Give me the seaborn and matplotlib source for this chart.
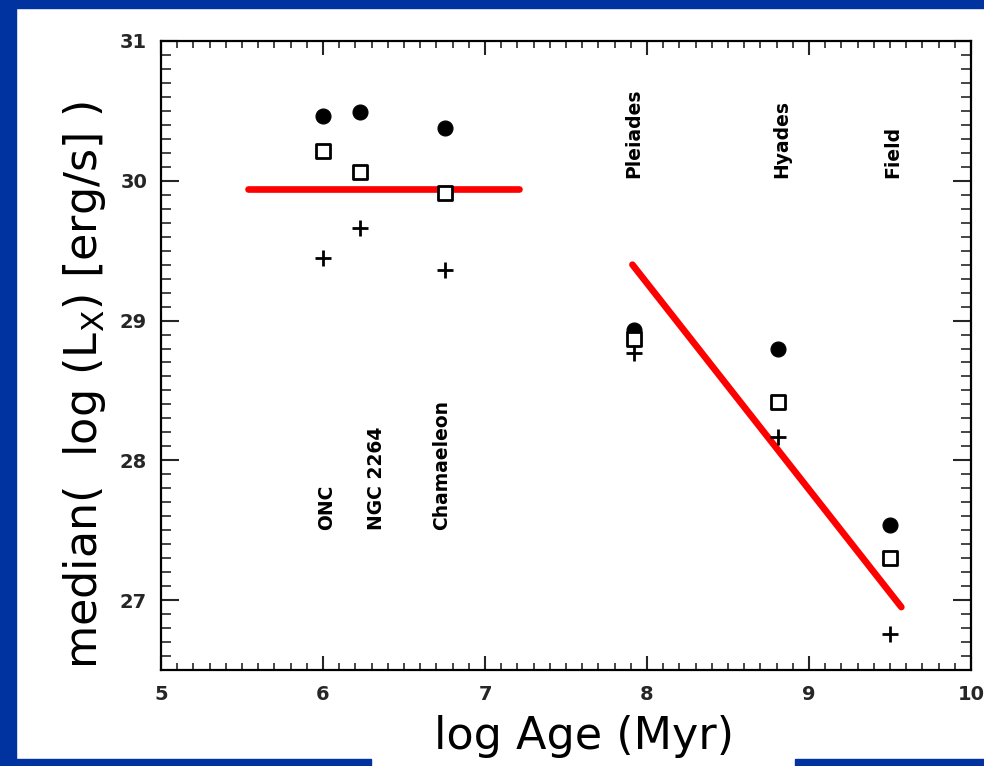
import numpy as np
import pandas as pd
import seaborn as sns
import matplotlib.pyplot as plt
from matplotlib.patches import Rectangle
from matplotlib.ticker import MultipleLocator

# cluster ages (log Myr) and median log Lx for three sample cuts
clusters = ['ONC', 'NGC 2264', 'Chamaeleon', 'Pleiades', 'Hyades', 'Field']
log_age = [6.0, 6.23, 6.75, 7.92, 8.81, 9.5]
lx_circle = [30.46, 30.49, 30.38, 28.93, 28.80, 27.54]
lx_square = [30.21, 30.06, 29.91, 28.87, 28.42, 27.30]
lx_plus = [29.45, 29.66, 29.36, 28.77, 28.17, 26.76]

# cluster name positions (x, bottom of rotated text)
label_x = [6.02, 6.33, 6.73, 7.92, 8.83, 9.52]
label_y = [27.50, 27.50, 27.50, 30.02, 30.02, 30.02]

# red trend lines
flat_x = [5.54, 7.21]
flat_y = [29.94, 29.94]
decline_x = [7.91, 9.57]
decline_y = [29.40, 26.95]

df = pd.DataFrame({'age': log_age, 'circle': lx_circle,
                   'square': lx_square, 'plus': lx_plus})

sns.set_style('ticks')
plt.rcParams['font.family'] = ['DejaVu Sans']

fig = plt.figure(figsize=(9.84, 7.66), dpi=100, facecolor='white')
ax = fig.add_axes([161/984, 96/766, 810/984, 629/766])

blue = '#0033a0'
# blue slide frame
fig.patches.append(Rectangle((0, 758/766), 1, 8/766, transform=fig.transFigure, color=blue, zorder=0))
fig.patches.append(Rectangle((0, 0), 16/984, 1, transform=fig.transFigure, color=blue, zorder=0))
fig.patches.append(Rectangle((0, 0), 371/984, 7/766, transform=fig.transFigure, color=blue, zorder=0))
fig.patches.append(Rectangle((795/984, 0), 189/984, 7/766, transform=fig.transFigure, color=blue, zorder=0))

sns.lineplot(x=flat_x, y=flat_y, ax=ax, color='#ff0000', linewidth=4.8, zorder=3)
sns.lineplot(x=decline_x, y=decline_y, ax=ax, color='#ff0000', linewidth=4.8, zorder=3)

sns.scatterplot(data=df, x='age', y='circle', ax=ax, marker='o', s=115,
                color='black', edgecolor='black', zorder=4)
sns.scatterplot(data=df, x='age', y='square', ax=ax, marker='s', s=100,
                facecolor='white', edgecolor='black', linewidth=2, zorder=4)
sns.scatterplot(data=df, x='age', y='plus', ax=ax, marker='+', s=140,
                color='black', linewidth=2, zorder=4)

for name, x, y in zip(clusters, label_x, label_y):
    ax.text(x, y, name, rotation=90, ha='center', va='bottom',
            fontsize=13.5, fontweight='bold', color='black')

ax.set_xlim(5, 10)
ax.set_ylim(26.5, 31)
ax.xaxis.set_major_locator(MultipleLocator(1))
ax.xaxis.set_minor_locator(MultipleLocator(0.1))
ax.yaxis.set_major_locator(MultipleLocator(1))
ax.yaxis.set_minor_locator(MultipleLocator(0.1))
ax.set_xlabel('')
ax.set_ylabel('')

for s in ax.spines.values():
    s.set_visible(True)
    s.set_linewidth(1.6)
    s.set_color('black')

ax.tick_params(axis='x', which='major', direction='in', length=10, width=1.5,
               top=True, bottom=True, labelsize=14, pad=11)
ax.tick_params(axis='x', which='minor', direction='in', length=5, width=1.2,
               top=True, bottom=True)
ax.tick_params(axis='y', which='major', direction='in', length=13, width=1.5,
               left=True, right=True, labelsize=14, pad=10)
ax.tick_params(axis='y', which='minor', direction='in', length=7.5, width=1.2,
               left=True, right=True)
for lab in ax.get_xticklabels() + ax.get_yticklabels():
    lab.set_fontweight('bold')

fig.text(85/984, 1 - 385/766, 'median(  log (L$_\\mathrm{X}$) [erg/s] )',
         rotation=90, ha='center', va='center', fontsize=32, color='black')
fig.text(584/984, 1 - 736/766, 'log Age (Myr)', ha='center', va='center',
         fontsize=32, color='black')

fig.savefig('out.png', dpi=100, facecolor='white')
